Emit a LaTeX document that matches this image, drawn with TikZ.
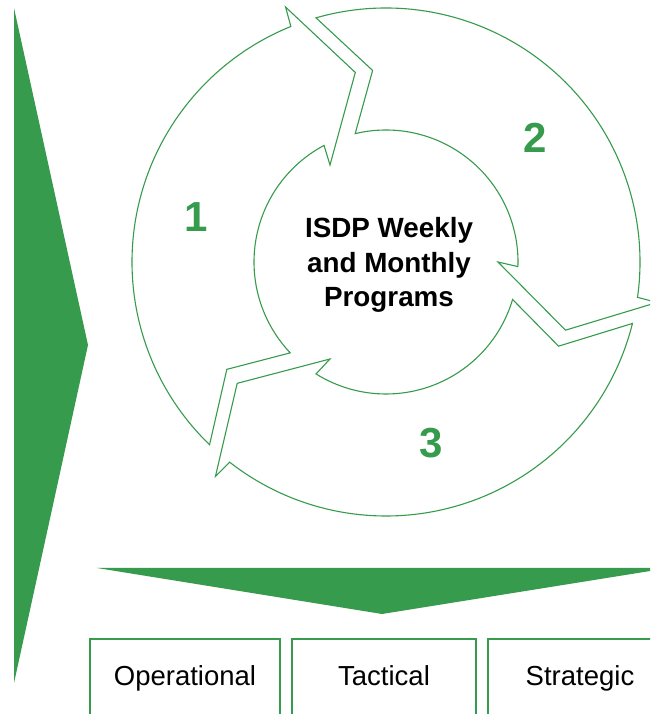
\documentclass[tikz,border=0pt]{standalone}
\usepackage{fontspec}
\setmainfont{Liberation Sans}
\usetikzlibrary{calc}
\definecolor{sgreen}{RGB}{54,155,76}
\begin{document}
\begin{tikzpicture}[x=1pt,y=1pt,
  ringseg/.style={draw=sgreen, line width=1.1pt, fill=white, line join=miter},
  bigarrow/.style={fill=sgreen, draw=none},
  levelbox/.style={draw=sgreen, line width=1.4pt, fill=white},
  leveltext/.style={font=\fontsize{27.5}{33}\selectfont, text=black, anchor=base, inner sep=0pt},
  numtext/.style={font=\fontsize{42}{50}\selectfont\bfseries, text=sgreen, inner sep=0pt},
  centertext/.style={font=\fontsize{27.8}{34.5}\selectfont\bfseries, text=black, align=center, inner sep=0pt}]
\useasboundingbox (0,0) rectangle (650,714);
\clip (0,0) rectangle (650,714);
% left big arrow
\fill[bigarrow] (14,706) -- (88,369) -- (14,31) -- cycle;
% down arrow
\fill[bigarrow] (97,146) -- (669,146) -- (382,100) -- cycle;
% boxes
\draw[levelbox] (90,75) rectangle (280,-20);
\draw[levelbox] (292,75) rectangle (476,-20);
\draw[levelbox] (488,75) rectangle (672,-20);
\node[leveltext] (op) at (185,28) {Operational};
\node[leveltext] (tac) at (384,28) {Tactical};
\node[leveltext] (str) at (580,28) {Strategic};
% ring
\coordinate (C) at (386,452);
\foreach \r in {0,-120,-240}{
  \begin{scope}[shift={(C)}, rotate=\r]
    \draw[ringseg] (226:254) arc[start angle=226, end angle=112, radius=254]
      -- (111.5:274) -- (99.2:192) -- (120:112) -- (118:132)
      arc[start angle=118, end angle=223.5, radius=132] -- (214:192) -- cycle;
  \end{scope}
}
\node[centertext] (ctr) at (389,449) {ISDP Weekly\\and Monthly\\Programs};
\node[numtext] (n1) at (196,497) {1};
\node[numtext] (n2) at (535,576) {2};
\node[numtext] (n3) at (431,271) {3};
\end{tikzpicture}
\end{document}
